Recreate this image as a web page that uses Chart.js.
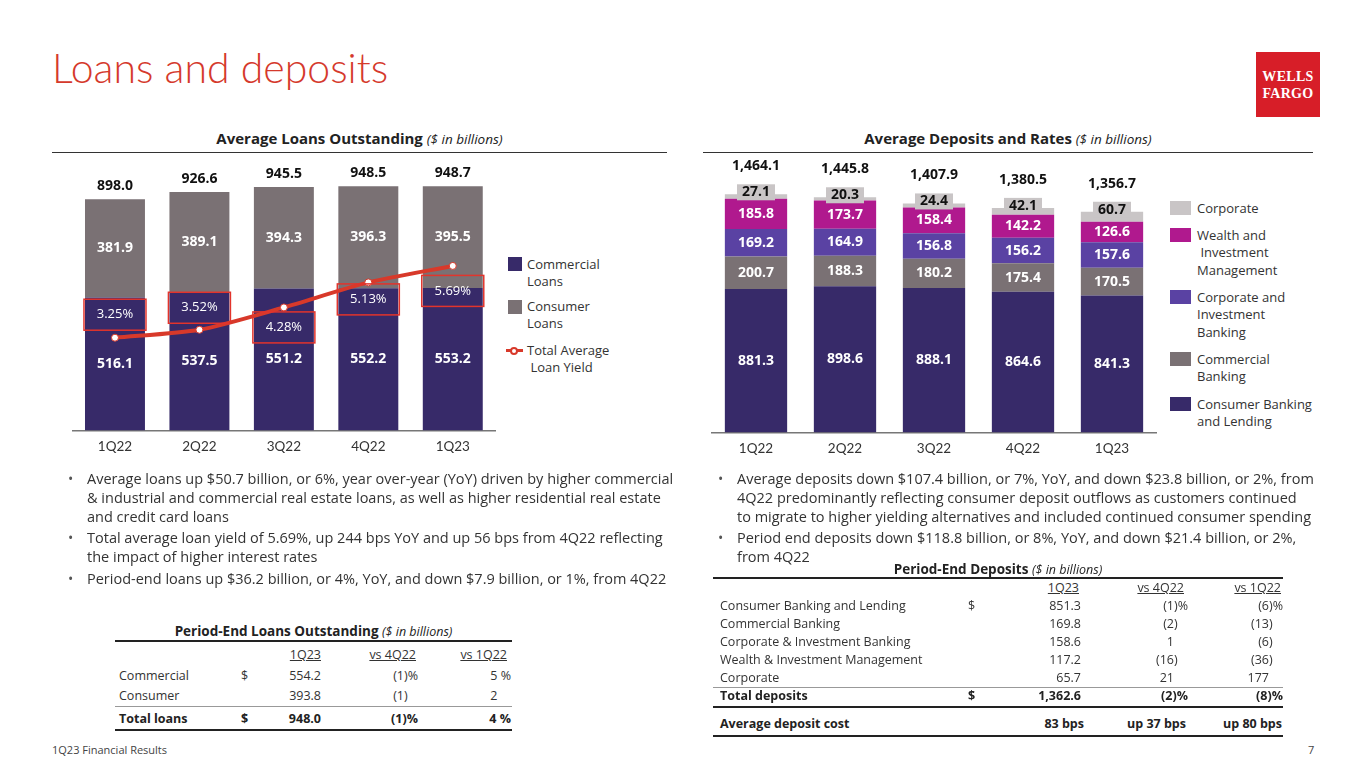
<!DOCTYPE html>
<html>
<head>
<meta charset="utf-8">
<script src="https://cdn.jsdelivr.net/npm/chart.js@4.4.1/dist/chart.umd.min.js"></script>
<style>
  body { margin: 0; background: #fff; font-family: "Open Sans", "Noto Sans", sans-serif; color: #333; }
  #slide { position: relative; width: 1365px; height: 768px; overflow: hidden; }
  .abs { position: absolute; }
  .title { left: 52px; top: 43px; font-family: Lato, sans-serif; font-size: 41px; font-weight: 300; color: #d5392c; line-height: 49px; white-space: nowrap; }
  .logo { left: 1256px; top: 52px; width: 64px; height: 65px; background: #d71e28; color: #fff;
          font-family: "Liberation Serif", serif; font-weight: bold; font-size: 14px; line-height: 17px;
          text-align: center; padding-top: 16px; box-sizing: border-box; letter-spacing: 0.3px; }
  .sect { top: 129px; font-size: 15px; font-weight: bold; color: #222; text-align: center; line-height: 18px;
          border-bottom: 1px solid #333; padding-bottom: 4px; white-space: nowrap; }
  .sect i { font-weight: normal; font-size: 13.5px; }
  .leg { font-size: 13px; line-height: 17.3px; color: #333; white-space: nowrap; }
  .bul { top: 468.5px; font-size: 14.5px; line-height: 19px; color: #333; white-space: nowrap; }
  .bul div { position: relative; padding-left: 19px; margin-bottom: 2.5px; }
  .bul div:before { content: "\2022"; position: absolute; left: 0; color: #555; font-size: 14px; }
  .cell { position: absolute; font-size: 12.5px; line-height: 18px; white-space: nowrap; color: #333; }
  .cell.b { font-weight: bold; color: #222; }
  .cell.u { text-decoration: underline; }
  .h { visibility: hidden; }
  .rule { position: absolute; background: #222; }
  .tt { font-size: 13.5px; font-weight: bold; color: #222; text-align: center; line-height: 18px; white-space: nowrap; }
  .tt i { font-weight: normal; font-size: 12.5px; }
  canvas { position: absolute; }
</style>
</head>
<body>
<div id="slide">
  <div class="abs title">Loans and deposits</div>
  <div class="abs logo">WELLS<br>FARGO</div>

  <div class="abs sect" style="left:52px;width:615px">Average Loans Outstanding <i>($ in billions)</i></div>
  <div class="abs sect" style="left:703px;width:610px">Average Deposits and Rates <i>($ in billions)</i></div>

  <canvas id="loans" width="440" height="320" style="left:60px;top:150px"></canvas>
  <canvas id="deposits" width="470" height="320" style="left:700px;top:150px"></canvas>

  <!-- loans legend -->
  <div class="abs" style="left:508px;top:257px;width:14px;height:14px;background:#372a69"></div>
  <div class="abs leg" style="left:527px;top:255.5px">Commercial<br>Loans</div>
  <div class="abs" style="left:508px;top:300px;width:14px;height:14px;background:#7a7174"></div>
  <div class="abs leg" style="left:527px;top:298px">Consumer<br>Loans</div>
  <div class="abs" style="left:506px;top:349px;width:17px;height:3px;background:#d8392a"></div>
  <div class="abs" style="left:510px;top:346.5px;width:4px;height:4px;border:2px solid #d8392a;border-radius:50%;background:#fff"></div>
  <div class="abs leg" style="left:527px;top:341.5px">Total Average<br>&nbsp;Loan Yield</div>

  <!-- deposits legend -->
  <div class="abs" style="left:1170px;top:201px;width:21px;height:14px;background:#c9c5c6"></div>
  <div class="abs leg" style="left:1197px;top:199.5px">Corporate</div>
  <div class="abs" style="left:1170px;top:228px;width:21px;height:14px;background:#b0198e"></div>
  <div class="abs leg" style="left:1197px;top:227px">Wealth and<br>&nbsp;Investment<br>Management</div>
  <div class="abs" style="left:1170px;top:290px;width:21px;height:14px;background:#5a42a3"></div>
  <div class="abs leg" style="left:1197px;top:289px">Corporate and<br>Investment<br>Banking</div>
  <div class="abs" style="left:1170px;top:352px;width:21px;height:14px;background:#7a7174"></div>
  <div class="abs leg" style="left:1197px;top:350.5px">Commercial<br>Banking</div>
  <div class="abs" style="left:1170px;top:397px;width:21px;height:14px;background:#372a69"></div>
  <div class="abs leg" style="left:1197px;top:395.5px">Consumer Banking<br>and Lending</div>

  <!-- bullets -->
  <div class="abs bul" style="left:68px">
    <div>Average loans up $50.7 billion, or 6%, year over-year (YoY) driven by higher commercial<br>&amp; industrial and commercial real estate loans, as well as higher residential real estate<br>and credit card loans</div>
    <div>Total average loan yield of 5.69%, up 244 bps YoY and up 56 bps from 4Q22 reflecting<br>the impact of higher interest rates</div>
    <div>Period-end loans up $36.2 billion, or 4%, YoY, and down $7.9 billion, or 1%, from 4Q22</div>
  </div>
  <div class="abs bul" style="left:718px">
    <div>Average deposits down $107.4 billion, or 7%, YoY, and down $23.8 billion, or 2%, from<br>4Q22 predominantly reflecting consumer deposit outflows as customers continued<br>to migrate to higher yielding alternatives and included continued consumer spending</div>
    <div>Period end deposits down $118.8 billion, or 8%, YoY, and down $21.4 billion, or 2%,<br>from 4Q22</div>
  </div>

  <!-- table titles and rules -->
  <div class="abs tt" style="left:115px;width:397px;top:622px">Period-End Loans Outstanding <i>($ in billions)</i></div>
  <div class="rule" style="left:115px;width:397px;top:640px;height:2px"></div>
  <div class="rule" style="left:115px;width:397px;top:706px;height:1px;background:#999"></div>
  <div class="rule" style="left:115px;width:397px;top:729px;height:2px"></div>

  <div class="abs tt" style="left:713px;width:570px;top:560px">Period-End Deposits <i>($ in billions)</i></div>
  <div class="rule" style="left:713px;width:570px;top:577px;height:2px"></div>
  <div class="rule" style="left:713px;width:570px;top:687px;height:1px;background:#999"></div>
  <div class="rule" style="left:713px;width:570px;top:706px;height:2px"></div>
  <div class="rule" style="left:713px;width:570px;top:735px;height:2px"></div>

  <div class="abs" style="left:52px;top:742px;font-size:11px;color:#444">1Q23 Financial Results</div>
  <div class="abs" style="left:1308px;top:742px;font-size:11px;color:#444">7</div>
</div>

<script>
const quarters = ['1Q22', '2Q22', '3Q22', '4Q22', '1Q23']

// average loans outstanding ($bn)
const commercialLoans = [516.1, 537.5, 551.2, 552.2, 553.2]
const consumerLoans = [381.9, 389.1, 394.3, 396.3, 395.5]
const totalLoans = [898.0, 926.6, 945.5, 948.5, 948.7]
const loanYield = [3.25, 3.52, 4.28, 5.13, 5.69]

// average deposits ($bn)
const cblDeposits = [881.3, 898.6, 888.1, 864.6, 841.3]
const cbDeposits = [200.7, 188.3, 180.2, 175.4, 170.5]
const cibDeposits = [169.2, 164.9, 156.8, 156.2, 157.6]
const wimDeposits = [185.8, 173.7, 158.4, 142.2, 126.6]
const corpDeposits = [27.1, 20.3, 24.4, 42.1, 60.7]
const totalDeposits = [1464.1, 1445.8, 1407.9, 1380.5, 1356.7]

const NAVY = '#372a69'
const GREY = '#7a7174'
const RED = '#d8392a'
const LABEL_FONT = 'bold 14px "Open Sans"'

Chart.defaults.font.family = 'Lato'
Chart.defaults.animation = false

const fmt = (v) => v.toLocaleString('en-US', { minimumFractionDigits: 1, maximumFractionDigits: 1 })

const xAxis = {
    stacked: true,
    grid: { display: false, drawTicks: false },
    border: { display: true, color: '#777', width: 1.5 },
    ticks: { color: '#333', font: { size: 13.5 }, padding: 8 },
}

const loanLabels = {
    id: 'loanLabels',
    afterDatasetsDraw(chart, args, opts) {
        const ctx = chart.ctx
        const com = chart.getDatasetMeta(0).data
        const con = chart.getDatasetMeta(1).data
        const pts = chart.getDatasetMeta(2).data
        ctx.save()
        ctx.textAlign = 'center'
        ctx.textBaseline = 'middle'
        ctx.font = LABEL_FONT
        com.forEach((bar, i) => {
            ctx.fillStyle = '#fff'
            ctx.fillText(fmt(commercialLoans[i]), bar.x, (bar.y + bar.base) / 2)
            ctx.fillText(fmt(consumerLoans[i]), con[i].x, (con[i].y + con[i].base) / 2)
            ctx.fillStyle = '#111'
            ctx.fillText(fmt(totalLoans[i]), con[i].x, con[i].y - 13)
        })
        ctx.font = '13px "Open Sans"'
        pts.forEach((p, i) => {
            const cy = p.y + opts.offsets[i]
            ctx.strokeStyle = '#e2342c'
            ctx.lineWidth = 1.5
            ctx.strokeRect(p.x - 31, cy - 15.5, 62, 31)
            ctx.fillStyle = '#fff'
            ctx.fillText(loanYield[i].toFixed(2) + '%', p.x, cy)
        })
        ctx.restore()
    },
}

new Chart(document.getElementById('loans'), {
    type: 'bar',
    data: {
        labels: quarters,
        datasets: [
            { label: 'Commercial Loans', data: commercialLoans, backgroundColor: NAVY, order: 1 },
            { label: 'Consumer Loans', data: consumerLoans, backgroundColor: GREY, order: 1 },
            {
                type: 'line',
                label: 'Total Average Loan Yield',
                data: loanYield,
                yAxisID: 'y2',
                borderColor: RED,
                borderWidth: 4,
                tension: 0.25,
                pointRadius: 3.5,
                pointBackgroundColor: '#fff',
                pointBorderColor: RED,
                pointBorderWidth: 1,
                order: 0,
            },
        ],
    },
    options: {
        responsive: false,
        barPercentage: 0.71,
        categoryPercentage: 1,
        layout: { padding: { top: 20, bottom: 7.4, left: 12.75, right: 4.75 } },
        plugins: {
            legend: { display: false },
            tooltip: { enabled: false },
            loanLabels: { offsets: [-23, -22, 20, 17, 25] },
        },
        scales: {
            x: xAxis,
            y: { stacked: true, display: false, min: 0, max: 1012 },
            y2: { display: false, min: 0.1, max: 8.95 },
        },
    },
    plugins: [loanLabels],
})

const depositLabels = {
    id: 'depositLabels',
    afterDatasetsDraw(chart) {
        const ctx = chart.ctx
        const series = [cblDeposits, cbDeposits, cibDeposits, wimDeposits]
        ctx.save()
        ctx.textAlign = 'center'
        ctx.textBaseline = 'middle'
        ctx.font = LABEL_FONT
        ctx.fillStyle = '#fff'
        series.forEach((vals, d) => {
            chart.getDatasetMeta(d).data.forEach((bar, i) => {
                ctx.fillText(fmt(vals[i]), bar.x, (bar.y + bar.base) / 2)
            })
        })
        chart.getDatasetMeta(4).data.forEach((bar, i) => {
            const cy = bar.y - 2
            ctx.fillStyle = '#c9c5c6'
            ctx.fillRect(bar.x - 19, cy - 8, 38, 16)
            ctx.fillStyle = '#111'
            ctx.fillText(fmt(corpDeposits[i]), bar.x, cy)
            ctx.fillText(fmt(totalDeposits[i]), bar.x, bar.y - 28)
        })
        ctx.restore()
    },
}

new Chart(document.getElementById('deposits'), {
    type: 'bar',
    data: {
        labels: quarters,
        datasets: [
            { label: 'Consumer Banking and Lending', data: cblDeposits, backgroundColor: NAVY },
            { label: 'Commercial Banking', data: cbDeposits, backgroundColor: GREY },
            { label: 'Corporate and Investment Banking', data: cibDeposits, backgroundColor: '#5a42a3' },
            { label: 'Wealth and Investment Management', data: wimDeposits, backgroundColor: '#b0198e' },
            { label: 'Corporate', data: corpDeposits, backgroundColor: '#c9c5c6' },
        ],
    },
    options: {
        responsive: false,
        barPercentage: 0.7,
        categoryPercentage: 1,
        layout: { padding: { top: 20, bottom: 5.4, left: 11.5, right: 13.5 } },
        plugins: { legend: { display: false }, tooltip: { enabled: false } },
        scales: {
            x: xAxis,
            y: { stacked: true, display: false, min: 0, max: 1613.5 },
        },
    },
    plugins: [depositLabels],
})

// tables
const slide = document.getElementById('slide')
function cell(html, x, y, align, cls) {
    const e = document.createElement('div')
    e.className = 'cell ' + (cls || '')
    e.innerHTML = html
    e.style.top = y - 9 + 'px'
    if (align === 'r') e.style.right = 1365 - x + 'px'
    else e.style.left = x + 'px'
    slide.appendChild(e)
}
const H = (s) => '<span class="h">' + s + '</span>'

cell('1Q23', 321, 655, 'r', 'u')
cell('vs 4Q22', 416, 655, 'r', 'u')
cell('vs 1Q22', 507, 655, 'r', 'u')
cell('Commercial', 119, 676)
cell('$', 241, 676)
cell('554.2', 321, 676, 'r')
cell('(1)%', 418, 676, 'r')
cell('5 %', 511, 676, 'r')
cell('Consumer', 119, 696)
cell('393.8', 321, 696, 'r')
cell('(1)' + H('%'), 418, 696, 'r')
cell('2' + H(' %'), 511, 696, 'r')
cell('Total loans', 119, 719, 'l', 'b')
cell('$', 241, 719, 'l', 'b')
cell('948.0', 321, 719, 'r', 'b')
cell('(1)%', 418, 719, 'r', 'b')
cell('4 %', 511, 719, 'r', 'b')

cell('1Q23', 1079, 588, 'r', 'u')
cell('vs 4Q22', 1184, 588, 'r', 'u')
cell('vs 1Q22', 1281, 588, 'r', 'u')
const depRows = [
    ['Consumer Banking and Lending', '$', '851.3', '(1)%', '(6)%'],
    ['Commercial Banking', '', '169.8', '(2)' + H('%'), '(13)' + H('%')],
    ['Corporate &amp; Investment Banking', '', '158.6', '1' + H(')%'), '(6)' + H('%')],
    ['Wealth &amp; Investment Management', '', '117.2', '(16)' + H('%'), '(36)' + H('%')],
    ['Corporate', '', '65.7', '21' + H(')%'), '177' + H(')%')],
]
depRows.forEach((r, i) => {
    const y = 606 + i * 18
    cell(r[0], 720, y)
    if (r[1]) cell(r[1], 968, y)
    cell(r[2], 1081, y, 'r')
    cell(r[3], 1188, y, 'r')
    cell(r[4], 1283, y, 'r')
})
cell('Total deposits', 720, 696, 'l', 'b')
cell('$', 968, 696, 'l', 'b')
cell('1,362.6', 1081, 696, 'r', 'b')
cell('(2)%', 1188, 696, 'r', 'b')
cell('(8)%', 1283, 696, 'r', 'b')
cell('Average deposit cost', 720, 724, 'l', 'b')
cell('83 bps', 1084, 724, 'r', 'b')
cell('up 37 bps', 1186, 724, 'r', 'b')
cell('up 80 bps', 1282, 724, 'r', 'b')
</script>
</body>
</html>
